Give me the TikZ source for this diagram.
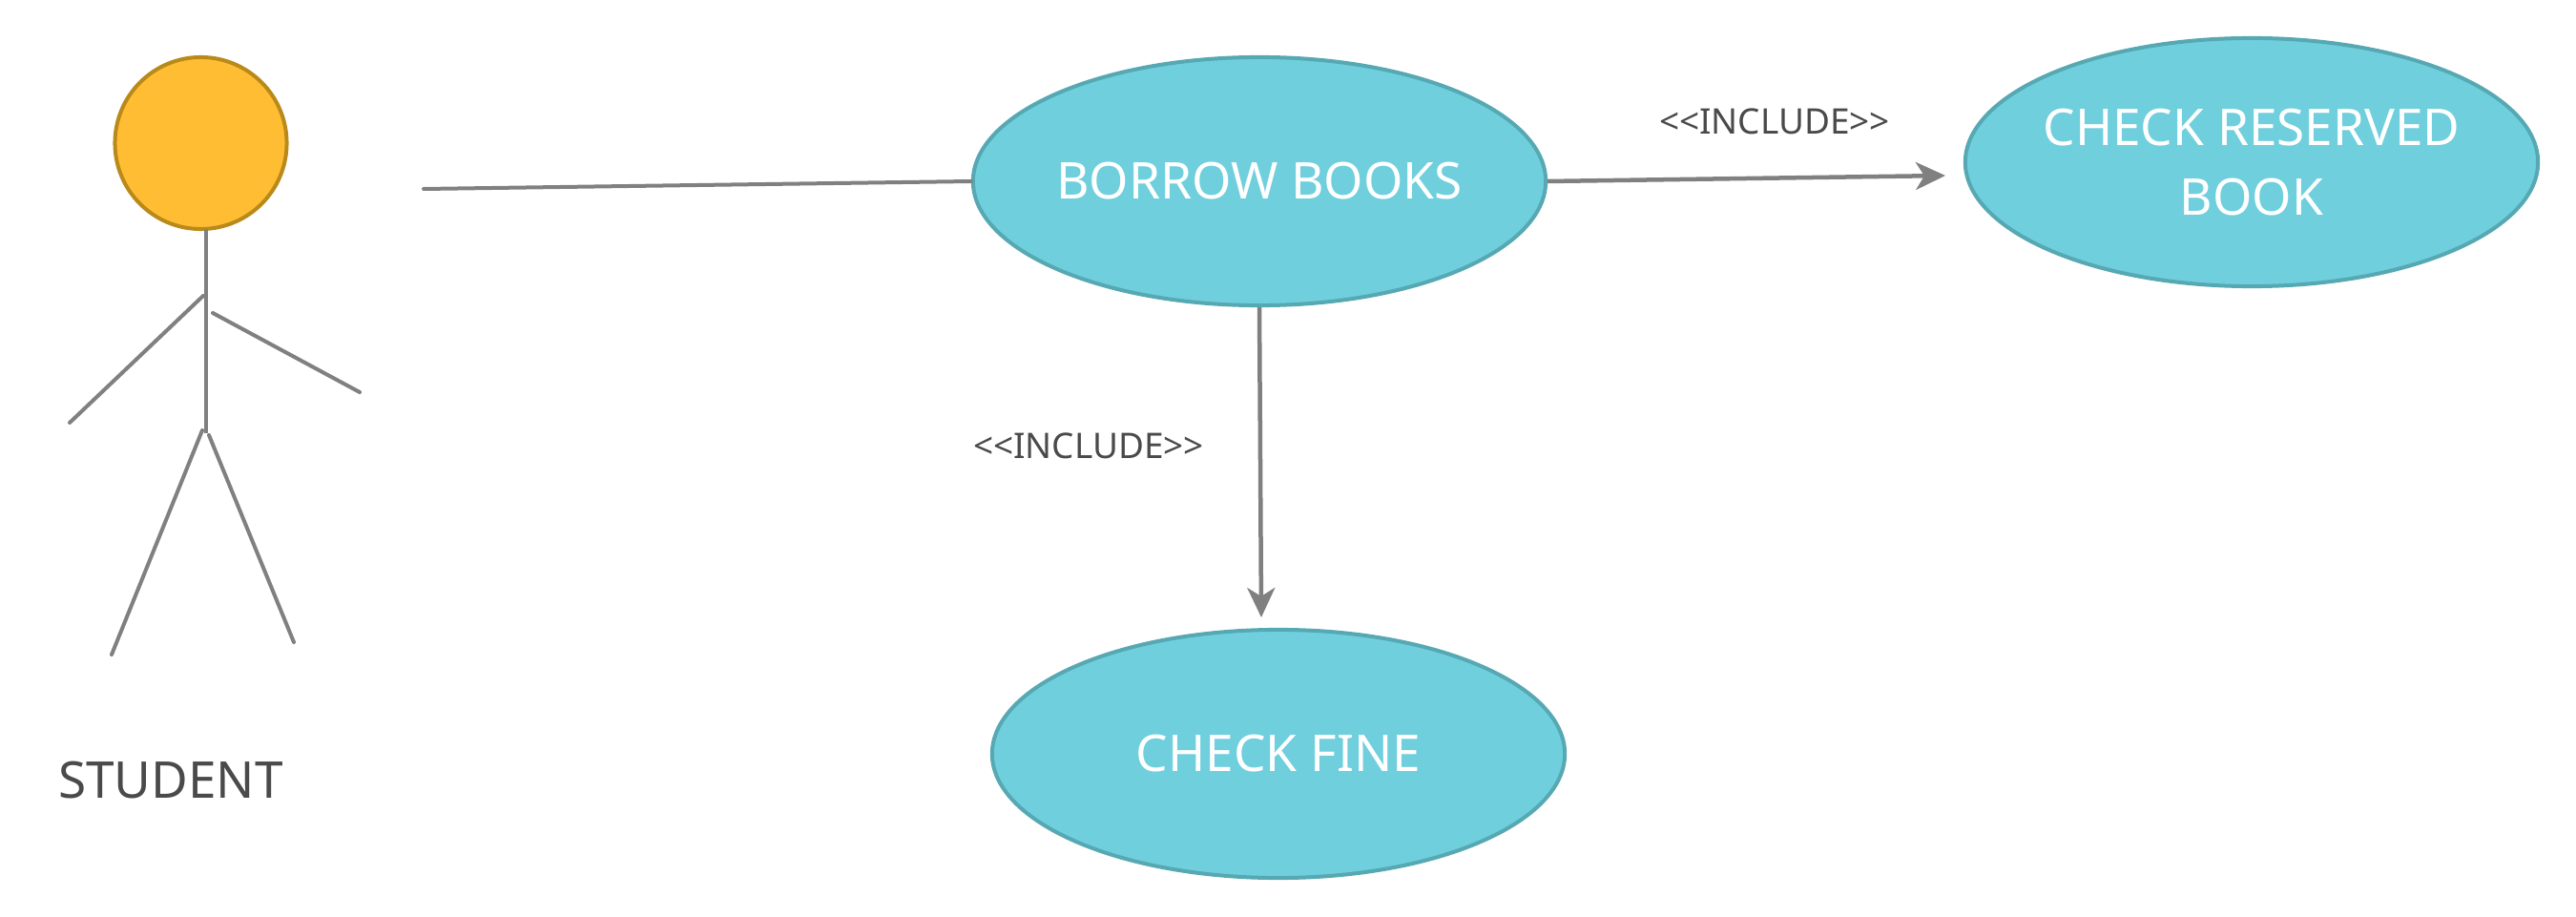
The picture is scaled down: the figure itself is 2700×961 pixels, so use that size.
\documentclass[tikz,border=0pt]{standalone}
\usepackage{fontspec}
\setmainfont[Ligatures=NoCommon]{Noto Sans}
\usetikzlibrary{arrows.meta,shapes.geometric}
\definecolor{usecase}{HTML}{6FCFDD}
\definecolor{usecaseline}{HTML}{56A8B2}
\definecolor{headfill}{HTML}{FFBD33}
\definecolor{headline}{HTML}{B98A1A}
\definecolor{stick}{HTML}{808080}
\definecolor{ink}{HTML}{4A4A4A}
\tikzset{>={Stealth[length=0.31cm,width=0.29cm,inset=0.09cm]}}
\tikzset{%
    usecasenode/.style={%
        ellipse,draw=usecaseline,fill=usecase,line width=0.04cm,
        minimum width=6cm,minimum height=2.6cm,inner sep=-1cm,
        align=center,text=white,font=\fontsize{15.1}{20.6}\selectfont
    },
    includelabel/.style={text=ink,inner sep=0pt,font=\fontsize{10.5}{13}\selectfont},
    limb/.style={stick,line width=0.04cm,line cap=round}
}

\begin{document}
\begin{tikzpicture}[x=0.01cm,y=-0.01cm]
    \useasboundingbox (0,0) rectangle (2700,961);
    \node[usecasenode] (borrow) at (1320,190) {BORROW BOOKS};
    \node[usecasenode] (reserved) at (2360,170) {CHECK RESERVED\\BOOK};
    \node[usecasenode] (fine) at (1340,790) {CHECK FINE};
    \node[circle,draw=headline,fill=headfill,line width=0.04cm,minimum size=1.8cm,inner sep=0pt] (head) at (210.5,150) {};
    \node[text=ink,inner sep=0pt,font=\fontsize{15.1}{20}\selectfont] (student) at (179,818) {STUDENT};
    \node[includelabel] (includeright) at (1860,127) {{<}{<}INCLUDE{>}{>}};
    \node[includelabel] (includedown) at (1141,467) {{<}{<}INCLUDE{>}{>}};
    \coordinate (neck) at (216,240);
    \coordinate (hip) at (216,454);
    \coordinate (shoulderl) at (213,310);
    \coordinate (handl) at (73,443);
    \coordinate (shoulderr) at (223,328);
    \coordinate (handr) at (377,411);
    \coordinate (hipl) at (212,451);
    \coordinate (footl) at (117,686);
    \coordinate (hipr) at (219,456);
    \coordinate (footr) at (308,673);
    \coordinate (actorend) at (444,198);
    \coordinate (reservedin) at (2039,184);
    \coordinate (finein) at (1322,647);
    \draw[stick,line width=0.045cm] (neck)--(hip);
    \draw[limb] (shoulderl)--(handl);
    \draw[limb] (shoulderr)--(handr);
    \draw[limb] (hipl)--(footl);
    \draw[limb] (hipr)--(footr);
    \draw[limb] (actorend)--(borrow.west);
    \draw[->,stick,line width=0.045cm] (borrow.east)--(reservedin);
    \draw[->,stick,line width=0.045cm] (borrow.south)--(finein);
\end{tikzpicture}
\end{document}
